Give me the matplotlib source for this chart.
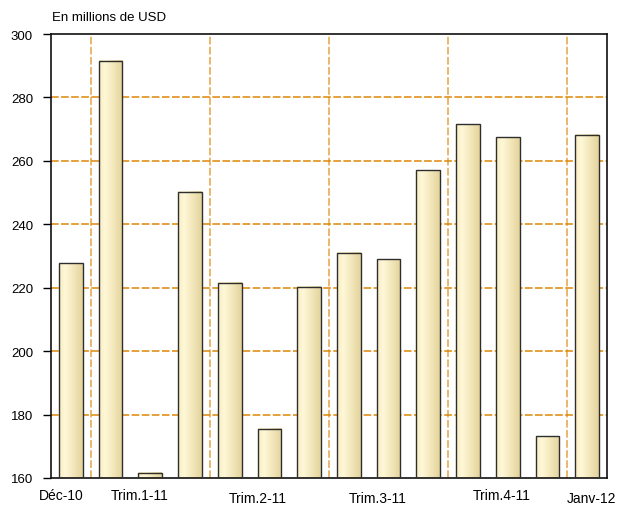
import matplotlib
matplotlib.use("Agg")
import matplotlib.pyplot as plt
import numpy as np
from matplotlib.colors import LinearSegmentedColormap

plt.rcParams['font.family'] = ['Liberation Sans', 'DejaVu Sans']

# data
values = [227.7, 291.6, 161.6, 250.2, 221.6, 175.6, 220.3,
          231.1, 229.0, 257.1, 271.5, 267.4, 173.1, 268.2]
upper_labels = ["Déc-10", "Trim.1-11", "Trim.4-11"]
upper_pos = [-0.25, 1.74, 10.86]
lower_labels = ["Trim.2-11", "Trim.3-11", "Janv-12"]
lower_pos = [4.71, 7.72, 13.1]
quarter_breaks = [0.5, 3.5, 6.5, 9.5, 12.5]
yticks = [160, 180, 200, 220, 240, 260, 280, 300]

grid_col = "#DC8606"
bar_cmap = LinearSegmentedColormap.from_list(
    "cream", [(0.0, "#F7EDC2"), (0.25, "#FFF8D8"), (1.0, "#E4D49C")])

fig = plt.figure(figsize=(6.34, 5.06), dpi=100)
ax = fig.add_axes([51 / 634, 1 - 479 / 506, 556 / 634, 444 / 506])
ax.set_xlim(-0.5, 13.5)
ax.set_ylim(160, 300)

x = np.arange(len(values))
bars = ax.bar(x, values, width=0.6, bottom=0, facecolor="none",
              edgecolor="#2e2e2e", linewidth=1.0, zorder=3)

# gradient fill inside each bar
grad = np.linspace(0, 1, 64).reshape(1, -1)
ybot = ax.get_ylim()[0]
for b in bars:
    x0 = b.get_x()
    x1 = x0 + b.get_width()
    ax.imshow(grad, cmap=bar_cmap, aspect="auto",
              extent=(x0, x1, ybot, b.get_height()), zorder=2,
              interpolation="bilinear")
ax.set_xlim(-0.5, 13.5)
ax.set_ylim(160, 300)

# grid
for yv in yticks[1:-1]:
    ax.axhline(yv, color=grid_col, lw=1.1, ls=(0, (5, 1.6)), zorder=1)
for xv in quarter_breaks:
    ax.axvline(xv, color=grid_col, lw=1.1, ls=(0, (5, 1.6)), alpha=0.75, zorder=1)

ax.set_yticks(yticks)
ax.tick_params(axis="y", direction="out", length=6, width=1, pad=7,
               labelsize=9.5, colors="black")

ax.set_xticks(upper_pos)
ax.set_xticklabels(upper_labels)
ax.set_xticks(lower_pos, minor=True)
ax.set_xticklabels(lower_labels, minor=True)
ax.tick_params(axis="x", which="major", length=0, pad=7, labelsize=10)
ax.tick_params(axis="x", which="minor", length=0, pad=9.5, labelsize=10)

for s in ax.spines.values():
    s.set_color("#111111")
    s.set_linewidth(1.2)

fig.text(52 / 634, 1 - 21 / 506, "En millions de USD", fontsize=9.5,
         ha="left", va="baseline")

fig.savefig("out.png", dpi=100)
